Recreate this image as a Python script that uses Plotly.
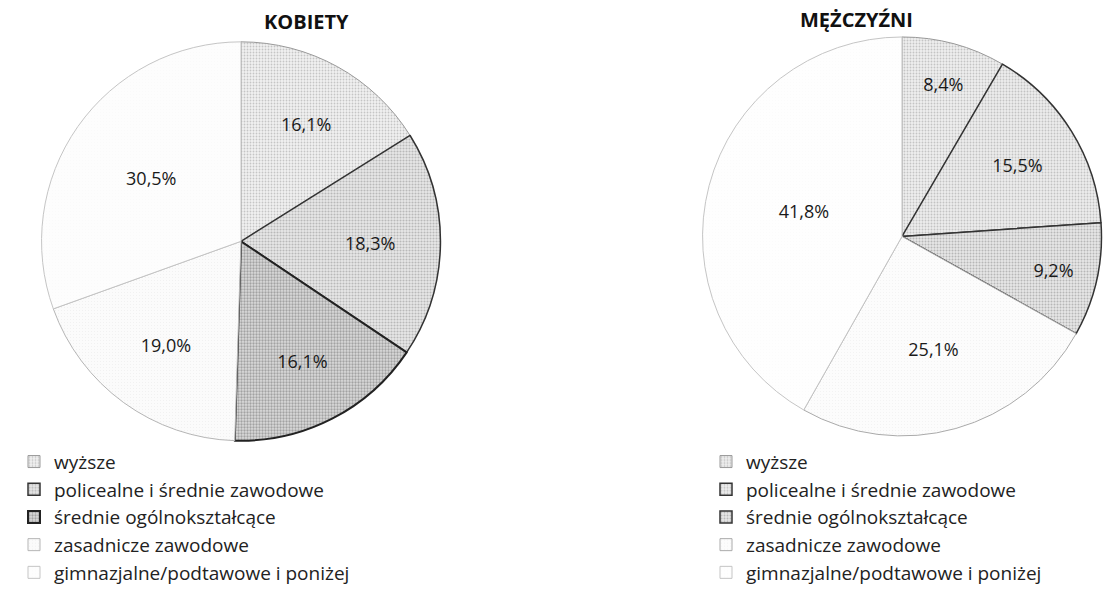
import plotly.graph_objects as go

categories = ["wyższe", "policealne i średnie zawodowe", "średnie ogólnokształcące",
              "zasadnicze zawodowe", "gimnazjalne/podtawowe i poniżej"]
kobiety = [16.1, 18.3, 16.1, 19.0, 30.5]
mezczyzni = [8.4, 15.5, 9.2, 25.1, 41.8]

def fmt(v):
    return f"{v:.1f}%".replace(".", ",")

font_main = "Open Sans, DejaVu Sans, sans-serif"

def pie(values, labels, domain, legend, bg, fg, sol, lcol, lw):
    return go.Pie(
        labels=labels, values=values, text=[fmt(v) for v in values],
        textinfo="text", textposition="inside", insidetextorientation="horizontal",
        textfont=dict(size=18, color="#1a1a1a", family=font_main),
        sort=False, direction="clockwise", rotation=0,
        marker=dict(colors=bg,
                    pattern=dict(shape=".", fgcolor=fg, bgcolor=bg,
                                 size=3, solidity=sol, fillmode="overlay"),
                    line=dict(color=lcol, width=lw)),
        domain=domain, legend=legend, hoverinfo="label+text",
    )

W, H = 1117, 592
R = 205
ck = (241, 248)
cm = (902, 243)

def dom(c, r):
    return dict(x=[(c[0] - r) / W, (c[0] + r) / W], y=[1 - (c[1] + r) / H, 1 - (c[1] - r) / H])

fig = go.Figure()
fig.add_trace(pie(
    kobiety, categories, dom(ck, R), "legend",
    bg=["#f1f1f1", "#e8e8e8", "#dadada", "#fbfbfb", "#fdfdfd"],
    fg=["#9a9a9a", "#8a8a8a", "#6a6a6a", "#cfcfcf", "#dddddd"],
    sol=[0.3, 0.4, 0.45, 0.06, 0.04],
    lcol=["#999999", "#333333", "#222222", "#b5b5b5", "#c5c5c5"],
    lw=[1, 1.5, 2, 1, 1]))
fig.add_trace(pie(
    mezczyzni, [c + "\u200b" for c in categories], dom(cm, R), "legend2",
    bg=["#eeeeee", "#ececec", "#e6e6e6", "#fcfcfc", "#fefefe"],
    fg=["#999999", "#999999", "#888888", "#d0d0d0", "#dddddd"],
    sol=[0.3, 0.3, 0.35, 0.05, 0.03],
    lcol=["#999999", "#333333", "#333333", "#aaaaaa", "#c5c5c5"],
    lw=[1, 1.5, 1.5, 1, 1]))

leg_common = dict(font=dict(size=19, color="#222222", family=font_main),
                  bgcolor="rgba(0,0,0,0)", yanchor="top", xanchor="left",
                  itemwidth=30, traceorder="normal")
fig.update_layout(
    width=W, height=H, margin=dict(l=0, r=0, t=0, b=0),
    paper_bgcolor="white", plot_bgcolor="white",
    legend=dict(x=14 / W, y=1 - 455 / H, **leg_common),
    legend2=dict(x=706 / W, y=1 - 455 / H, **leg_common),
    annotations=[
        dict(text="<b>KOBIETY</b>", x=262 / W, y=1 - 22 / H, xref="paper", yref="paper",
             yanchor="middle", showarrow=False,
             font=dict(size=20, color="#111111", family=font_main)),
        dict(text="<b>MĘŻCZYŹNI</b>", x=915 / W, y=1 - 20 / H, xref="paper", yref="paper",
             yanchor="middle", showarrow=False,
             font=dict(size=20, color="#111111", family=font_main)),
    ],
)
fig.write_html("out.html", config={"displayModeBar": False},
               post_script="document.body.style.margin='0';")
